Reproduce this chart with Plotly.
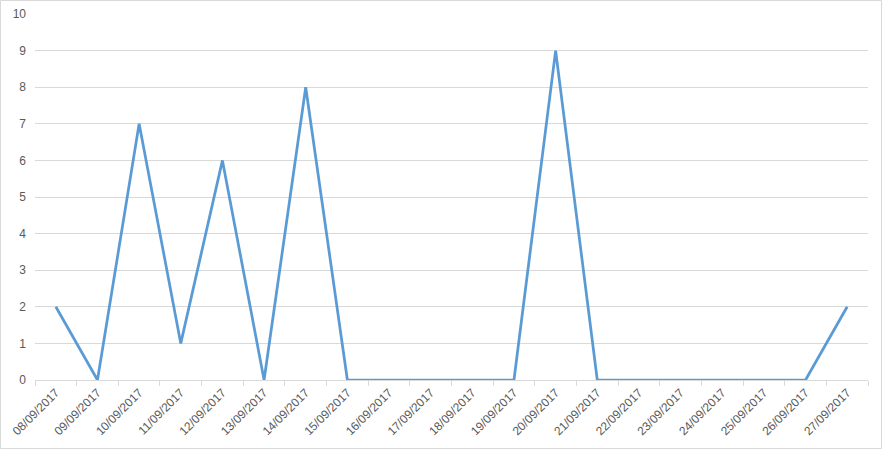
import plotly.graph_objects as go

dates = ["08/09/2017", "09/09/2017", "10/09/2017", "11/09/2017", "12/09/2017",
         "13/09/2017", "14/09/2017", "15/09/2017", "16/09/2017", "17/09/2017",
         "18/09/2017", "19/09/2017", "20/09/2017", "21/09/2017", "22/09/2017",
         "23/09/2017", "24/09/2017", "25/09/2017", "26/09/2017", "27/09/2017"]
values = [2, 0, 7, 1, 6, 0, 8, 0, 0, 0, 0, 0, 9, 0, 0, 0, 0, 0, 0, 2]
y_ticks = list(range(0, 11))

W, H = 882, 449
ml, mr, mt, mb = 35, 14, 14, 69
pw = W - ml - mr
ph = H - mt - mb

fig = go.Figure()
fig.add_trace(go.Scatter(
    x=dates, y=values, mode="lines",
    line=dict(color="#5B9BD5", width=2.75),
    hoverinfo="x+y",
))

fig.update_layout(
    width=W, height=H,
    margin=dict(l=ml, r=mr, t=mt, b=mb, pad=0, autoexpand=False),
    paper_bgcolor="white", plot_bgcolor="white",
    showlegend=False,
    font=dict(family="Liberation Sans, Arial, sans-serif", size=12, color="#595959"),
    xaxis=dict(
        type="category",
        categoryorder="array", categoryarray=dates,
        tickson="boundaries",
        ticks="outside", ticklen=5, tickcolor="#d9d9d9",
        tickangle=-45,
        tickfont=dict(size=12, color="#595959"),
        showgrid=False,
        showline=True, linecolor="#d9d9d9", linewidth=1,
        range=[-0.5, len(dates) - 0.5],
        automargin=False,
        fixedrange=True,
    ),
    yaxis=dict(
        range=[0, 10],
        tickmode="array", tickvals=y_ticks, ticktext=[str(v) for v in y_ticks],
        showgrid=True, gridcolor="#d9d9d9", gridwidth=1,
        zeroline=False,
        showline=False,
        ticks="", ticklabelstandoff=8,
        tickfont=dict(size=12, color="#595959"),
        automargin=False,
        fixedrange=True,
    ),
    shapes=[dict(
        type="rect", xref="paper", yref="paper",
        x0=(-ml + 0.5) / pw, x1=(pw + mr - 0.5) / pw,
        y0=(-mb + 0.5) / ph, y1=(ph + mt - 0.5) / ph,
        line=dict(color="#d9d9d9", width=1), fillcolor="rgba(0,0,0,0)",
        layer="below",
    )],
)

fig.write_html(
    "out.html",
    config={"displayModeBar": False},
    post_script="document.body.style.margin='0px';document.body.style.overflow='hidden';",
)
